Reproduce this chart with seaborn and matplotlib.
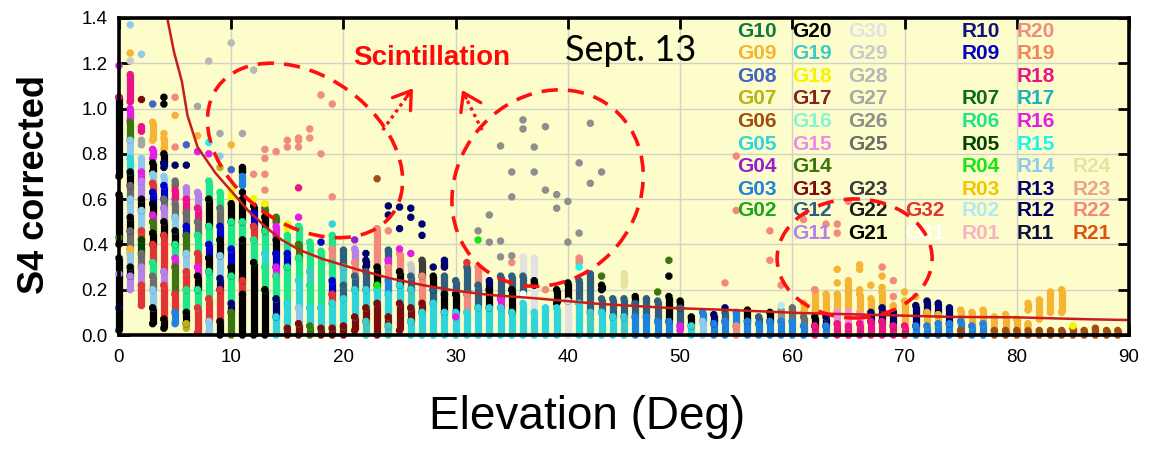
import numpy as np
import pandas as pd
import seaborn as sns
import matplotlib
matplotlib.use("Agg")
import matplotlib.pyplot as plt
from matplotlib.patches import Ellipse
from matplotlib.transforms import IdentityTransform, ScaledTranslation

# ---------------------------------------------------------------- colours
sat_colors = {
    "G10": "#127a3c", "G09": "#f6b436", "G08": "#4463c8", "G07": "#b4b418", "G06": "#a24e12",
    "G05": "#2ed6dc", "G04": "#9a1ed2", "G03": "#1e82e0", "G02": "#18a818",
    "G20": "#000000", "G19": "#3ecbc8", "G18": "#f4f400", "G17": "#842222", "G16": "#86f4d4",
    "G15": "#f08ce6", "G14": "#3c7410", "G13": "#7c0c0c", "G12": "#2e5f80", "G11": "#b482ea",
    "G30": "#e2e2e2", "G29": "#cacaca", "G28": "#b8b8b8", "G27": "#a6a6a6", "G26": "#8e8e8e",
    "G25": "#6c6c6c", "G23": "#3c3c3c", "G22": "#1c1c1c", "G21": "#000000",
    "G32": "#e23434", "G31": "#ffffff",
    "R10": "#12127e", "R09": "#0000cc", "R07": "#0c6a1c", "R06": "#1ee68a", "R05": "#004400",
    "R04": "#16e616", "R03": "#f4c400", "R02": "#b2e8f2", "R01": "#f8b2c4",
    "R20": "#f08c80", "R19": "#f4845e", "R18": "#ea1488", "R17": "#1cb2c2", "R16": "#e41ee4",
    "R15": "#1ef2f2", "R14": "#8ecaec", "R13": "#00006e", "R12": "#00005e", "R11": "#10103e",
    "R24": "#e8e2a2", "R23": "#eca28e", "R22": "#f2897c", "R21": "#e0500e",
}

# legend grid (column by column, top row first)
legend_columns = [
    ["G10", "G09", "G08", "G07", "G06", "G05", "G04", "G03", "G02", None],
    ["G20", "G19", "G18", "G17", "G16", "G15", "G14", "G13", "G12", "G11"],
    ["G30", "G29", "G28", "G27", "G26", "G25", None, "G23", "G22", "G21"],
    [None, None, None, None, None, None, None, None, "G32", "G31"],
    ["R10", "R09", None, "R07", "R06", "R05", "R04", "R03", "R02", "R01"],
    ["R20", "R19", "R18", "R17", "R16", "R15", "R14", "R13", "R12", "R11"],
    [None, None, None, None, None, None, "R24", "R23", "R22", "R21"],
]

# ---------------------------------------------------------------- data
# vertical runs of S4 samples: (elevation deg, satellite, S4 low, S4 high)
runs_low = [
    (0, "G21", 0.02, 0.34), (0, "G21", 0.40, 0.62), (0, "G21", 0.70, 1.05),
    (1, "G11", 0.20, 0.26), (1, "G21", 0.26, 0.30), (1, "R14", 0.30, 0.36), (1, "G09", 0.36, 0.38),
    (1, "G25", 0.38, 0.46), (1, "G21", 0.46, 0.52), (1, "R14", 0.52, 0.60), (1, "G25", 0.60, 0.66),
    (1, "G21", 0.66, 0.72), (1, "G05", 0.72, 0.78), (1, "R14", 0.78, 0.86), (1, "G14", 0.86, 0.94),
    (1, "R16", 0.95, 1.00), (1, "R18", 1.03, 1.15),
    (2, "G32", 0.13, 0.22), (2, "G11", 0.22, 0.30), (2, "G25", 0.30, 0.36), (2, "R05", 0.36, 0.42),
    (2, "G32", 0.42, 0.46), (2, "R14", 0.46, 0.55), (2, "G21", 0.55, 0.60), (2, "G11", 0.60, 0.68),
    (2, "R16", 0.68, 0.72), (2, "R14", 0.72, 0.78), (2, "G27", 0.84, 0.86), (2, "R18", 0.90, 0.92),
    (3, "G21", 0.05, 0.12), (3, "R14", 0.12, 0.20), (3, "G25", 0.20, 0.26), (3, "R06", 0.26, 0.32),
    (3, "G32", 0.32, 0.40), (3, "G21", 0.40, 0.45), (3, "G14", 0.45, 0.50), (3, "R16", 0.50, 0.53),
    (3, "G21", 0.53, 0.58), (3, "R09", 0.58, 0.63), (3, "G32", 0.63, 0.67), (3, "R14", 0.67, 0.71),
    (3, "G21", 0.72, 0.76), (3, "R16", 0.78, 0.82), (3, "G09", 0.86, 0.94),
    (4, "G21", 0.03, 0.07), (4, "G32", 0.07, 0.22), (4, "G11", 0.22, 0.28), (4, "G32", 0.28, 0.44),
    (4, "G21", 0.44, 0.50), (4, "G11", 0.50, 0.56), (4, "G25", 0.56, 0.60), (4, "R09", 0.60, 0.66),
    (4, "R14", 0.66, 0.70), (4, "R13", 0.74, 0.76), (4, "G21", 0.76, 0.80), (4, "G09", 0.82, 0.87),
    (5, "G03", 0.05, 0.10), (5, "G32", 0.10, 0.18), (5, "G14", 0.18, 0.30), (5, "R16", 0.30, 0.34),
    (5, "R06", 0.34, 0.40), (5, "G21", 0.40, 0.46), (5, "R14", 0.46, 0.52), (5, "G25", 0.52, 0.58),
    (5, "R18", 0.60, 0.64), (5, "G25", 0.66, 0.68),
    (6, "G07", 0.03, 0.05), (6, "G21", 0.05, 0.10), (6, "R06", 0.10, 0.20), (6, "G32", 0.20, 0.28),
    (6, "R14", 0.28, 0.36), (6, "G14", 0.36, 0.44), (6, "R09", 0.44, 0.48), (6, "G25", 0.48, 0.54),
    (6, "R18", 0.54, 0.60), (6, "G11", 0.60, 0.65),
    (7, "G32", 0.01, 0.12), (7, "R06", 0.12, 0.20), (7, "G21", 0.20, 0.26), (7, "R16", 0.26, 0.30),
    (7, "G32", 0.30, 0.36), (7, "R06", 0.36, 0.44), (7, "G25", 0.44, 0.50), (7, "R18", 0.50, 0.56),
    (7, "G11", 0.56, 0.63),
    (8, "R14", 0.01, 0.06), (8, "G32", 0.06, 0.16), (8, "R06", 0.16, 0.28), (8, "G21", 0.28, 0.34),
    (8, "R09", 0.34, 0.40), (8, "R06", 0.40, 0.48), (8, "G21", 0.48, 0.60), (8, "R06", 0.60, 0.68),
    (9, "G21", 0.00, 0.06), (9, "G32", 0.06, 0.20), (9, "R13", 0.20, 0.25), (9, "R14", 0.25, 0.35),
    (9, "G21", 0.35, 0.42), (9, "R09", 0.42, 0.48), (9, "G25", 0.48, 0.56), (9, "R06", 0.56, 0.63),
    (10, "G14", 0.00, 0.10), (10, "R13", 0.10, 0.14), (10, "R06", 0.14, 0.26), (10, "G21", 0.26, 0.30),
    (10, "R09", 0.30, 0.38), (10, "R06", 0.38, 0.50), (10, "G21", 0.50, 0.58), (10, "G18", 0.60, 0.64),
    (11, "G21", 0.00, 0.18), (11, "G32", 0.18, 0.24), (11, "G21", 0.24, 0.42), (11, "R06", 0.42, 0.50),
    (11, "G21", 0.50, 0.60), (11, "G03", 0.66, 0.70), (11, "G21", 0.72, 0.74),
    (12, "G21", 0.00, 0.32), (12, "R06", 0.32, 0.42), (12, "G32", 0.42, 0.48), (12, "R09", 0.48, 0.54),
    (12, "G21", 0.54, 0.57), (12, "G18", 0.60, 0.60),
    (13, "G21", 0.00, 0.20), (13, "R06", 0.20, 0.30), (13, "G05", 0.30, 0.36), (13, "R06", 0.36, 0.46),
    (13, "G21", 0.46, 0.52), (13, "G14", 0.52, 0.56), (13, "G18", 0.58, 0.58),
    (14, "G05", 0.00, 0.08), (14, "R13", 0.08, 0.16), (14, "R06", 0.16, 0.26), (14, "R16", 0.26, 0.30),
    (14, "R09", 0.30, 0.36), (14, "G21", 0.36, 0.42), (14, "R16", 0.44, 0.48), (14, "G14", 0.50, 0.52),
    (15, "G13", 0.00, 0.03), (15, "G05", 0.03, 0.14), (15, "R06", 0.14, 0.30), (15, "R09", 0.30, 0.36),
    (15, "R06", 0.36, 0.44), (15, "G18", 0.47, 0.49),
    (16, "G13", 0.00, 0.05), (16, "R14", 0.05, 0.12), (16, "G05", 0.12, 0.24), (16, "R06", 0.24, 0.34),
    (16, "G14", 0.34, 0.40), (16, "R06", 0.40, 0.48),
]

runs_mid = [
    (17, "G14", 0.00, 0.04), (17, "G05", 0.04, 0.12), (17, "R06", 0.12, 0.22), (17, "G19", 0.22, 0.28),
    (17, "R06", 0.28, 0.41),
    (18, "G13", 0.00, 0.03), (18, "G05", 0.03, 0.12), (18, "R06", 0.12, 0.37),
    (19, "G13", 0.00, 0.03), (19, "G05", 0.03, 0.14), (19, "G32", 0.14, 0.18), (19, "R09", 0.18, 0.24),
    (19, "R06", 0.24, 0.32), (19, "R22", 0.32, 0.38), (19, "R06", 0.38, 0.44),
    (20, "G13", 0.00, 0.04), (20, "G05", 0.04, 0.16), (20, "G12", 0.16, 0.22), (20, "G19", 0.22, 0.30),
    (20, "G12", 0.30, 0.375),
    (21, "G13", 0.02, 0.08), (21, "G05", 0.08, 0.20), (21, "G12", 0.20, 0.26), (21, "R22", 0.26, 0.32),
    (21, "G11", 0.32, 0.38),
    (22, "G19", 0.00, 0.06), (22, "G13", 0.06, 0.12), (22, "G05", 0.12, 0.20), (22, "G12", 0.20, 0.28),
    (22, "R13", 0.30, 0.33),
    (23, "G13", 0.00, 0.14), (23, "G05", 0.14, 0.20), (23, "R04", 0.20, 0.22), (23, "G21", 0.22, 0.30),
    (23, "R22", 0.30, 0.47),
    (24, "G19", 0.00, 0.04), (24, "G13", 0.04, 0.08), (24, "G05", 0.08, 0.18), (24, "G03", 0.18, 0.24),
    (24, "R22", 0.24, 0.30), (24, "R16", 0.30, 0.33), (24, "G12", 0.33, 0.375),
    (25, "G13", 0.02, 0.14), (25, "G05", 0.14, 0.22), (25, "G21", 0.22, 0.28), (25, "R22", 0.28, 0.36),
    (26, "G05", 0.00, 0.06), (26, "G13", 0.06, 0.12), (26, "G19", 0.12, 0.20), (26, "G12", 0.20, 0.26),
    (26, "G29", 0.26, 0.31),
    (27, "G05", 0.00, 0.10), (27, "G13", 0.10, 0.14), (27, "R22", 0.14, 0.26), (27, "G23", 0.26, 0.33),
    (28, "G05", 0.00, 0.14), (28, "G12", 0.14, 0.20), (28, "G21", 0.20, 0.26),
    (29, "G05", 0.00, 0.10), (29, "G21", 0.10, 0.18), (29, "G12", 0.18, 0.26), (29, "R13", 0.30, 0.33),
    (30, "G05", 0.00, 0.10), (30, "G21", 0.10, 0.18), (30, "G12", 0.18, 0.24),
    (31, "G05", 0.00, 0.10), (31, "R22", 0.10, 0.18), (31, "G12", 0.18, 0.30),
    (32, "G05", 0.00, 0.12), (32, "G12", 0.12, 0.22), (32, "R22", 0.22, 0.30),
    (33, "G05", 0.00, 0.12), (33, "G21", 0.12, 0.20), (33, "R13", 0.20, 0.24),
    (34, "G05", 0.00, 0.12), (34, "R16", 0.12, 0.16), (34, "G12", 0.16, 0.26),
    (35, "G05", 0.00, 0.10), (35, "G21", 0.10, 0.20), (35, "G12", 0.20, 0.26),
    (36, "G05", 0.00, 0.14), (36, "G31", 0.14, 0.18), (36, "G12", 0.18, 0.26), (36, "G30", 0.28, 0.345),
    (37, "G05", 0.00, 0.10), (37, "G30", 0.10, 0.34), (37, "G21", 0.22, 0.24),
    (38, "G05", 0.00, 0.12),
    (39, "G05", 0.00, 0.12), (39, "G21", 0.14, 0.20),
    (40, "G30", 0.00, 0.15), (40, "G21", 0.15, 0.23),
    (41, "G05", 0.00, 0.14), (41, "G12", 0.14, 0.24), (41, "R22", 0.32, 0.34),
    (42, "G19", 0.00, 0.10), (42, "G12", 0.10, 0.27),
    (43, "G05", 0.00, 0.10), (43, "G12", 0.10, 0.16), (43, "G21", 0.20, 0.22),
    (44, "G05", 0.00, 0.08), (44, "G12", 0.08, 0.16),
    (45, "G19", 0.00, 0.08), (45, "G12", 0.08, 0.16), (45, "R24", 0.22, 0.27),
    (46, "G03", 0.00, 0.08), (46, "G12", 0.08, 0.14), (46, "G21", 0.14, 0.17),
    (47, "G03", 0.00, 0.08), (47, "G12", 0.08, 0.16),
    (48, "G03", 0.00, 0.06), (48, "G12", 0.06, 0.15),
    (49, "G03", 0.00, 0.06), (49, "G21", 0.06, 0.17),
    (50, "R16", 0.02, 0.04), (50, "G12", 0.04, 0.12), (50, "G21", 0.12, 0.15),
]

runs_high = [
    (51, "G05", 0.00, 0.04), (51, "G21", 0.04, 0.08),
    (52, "R14", 0.00, 0.06), (52, "G03", 0.06, 0.10),
    (53, "G03", 0.00, 0.05), (53, "R13", 0.05, 0.09),
    (54, "G03", 0.00, 0.06), (54, "G12", 0.06, 0.10),
    (55, "R22", 0.00, 0.04), (55, "G03", 0.04, 0.10),
    (56, "G03", 0.00, 0.06), (56, "G21", 0.06, 0.11),
    (57, "G03", 0.00, 0.05), (57, "G12", 0.05, 0.08),
    (58, "G03", 0.00, 0.06), (58, "G21", 0.06, 0.10),
    (59, "G03", 0.00, 0.06), (59, "G26", 0.06, 0.11),
    (60, "G03", 0.00, 0.06), (60, "G25", 0.06, 0.12),
    (61, "G03", 0.00, 0.04), (61, "G25", 0.04, 0.08), (61, "G09", 0.10, 0.14),
    (62, "R18", 0.00, 0.04), (62, "G21", 0.04, 0.08), (62, "G09", 0.10, 0.20),
    (63, "G03", 0.00, 0.04), (63, "R13", 0.04, 0.08), (63, "G09", 0.08, 0.18),
    (64, "R18", 0.00, 0.05), (64, "G15", 0.05, 0.10), (64, "G09", 0.10, 0.18),
    (65, "R18", 0.00, 0.04), (65, "G15", 0.04, 0.10), (65, "G09", 0.12, 0.22),
    (66, "R18", 0.00, 0.05), (66, "G15", 0.05, 0.09), (66, "G09", 0.10, 0.18),
    (67, "R18", 0.00, 0.06), (67, "R13", 0.06, 0.10), (67, "G09", 0.10, 0.16),
    (68, "R18", 0.00, 0.06), (68, "R13", 0.06, 0.12), (68, "G09", 0.12, 0.19),
    (69, "R18", 0.00, 0.04), (69, "R13", 0.04, 0.10), (69, "G09", 0.10, 0.13),
    (70, "R18", 0.00, 0.04), (70, "G09", 0.04, 0.15),
    (71, "G03", 0.00, 0.04), (71, "R13", 0.04, 0.13),
    (72, "G03", 0.00, 0.04), (72, "G09", 0.04, 0.10), (72, "R13", 0.10, 0.15),
    (73, "G03", 0.00, 0.05), (73, "G09", 0.05, 0.09), (73, "R13", 0.09, 0.14),
    (74, "G03", 0.00, 0.05), (74, "R13", 0.05, 0.12),
    (75, "G06", 0.00, 0.02), (75, "G03", 0.02, 0.06), (75, "G09", 0.06, 0.11),
    (76, "G03", 0.00, 0.04), (76, "G09", 0.04, 0.10),
    (77, "G03", 0.00, 0.05), (77, "G09", 0.05, 0.11),
    (78, "G06", 0.00, 0.02), (78, "G09", 0.02, 0.08),
    (79, "G06", 0.00, 0.02), (79, "G09", 0.02, 0.09),
    (80, "G06", 0.00, 0.02), (80, "G09", 0.02, 0.07),
    (81, "G06", 0.00, 0.02), (81, "G09", 0.04, 0.05), (81, "G09", 0.11, 0.14),
    (82, "G06", 0.00, 0.02), (82, "G09", 0.07, 0.155),
    (83, "G06", 0.00, 0.02), (83, "G09", 0.10, 0.19),
    (84, "G06", 0.00, 0.02), (84, "G09", 0.10, 0.20),
    (85, "G06", 0.00, 0.03), (86, "G06", 0.00, 0.02), (87, "G06", 0.00, 0.03),
    (88, "G06", 0.00, 0.02), (89, "G06", 0.00, 0.02),
]

# single S4 samples: (elevation deg, satellite, S4)
spots = [
    (0, "R16", 1.19), (0, "R18", 1.05), (0, "G14", 0.43), (0, "G11", 0.27), (0, "R13", 0.12),
    (1, "R14", 1.37), (1, "G09", 1.245), (1, "G29", 1.21), (2, "R14", 1.24), (2, "G13", 1.04),
    (3, "G08", 1.02), (4, "G21", 1.05), (4, "G21", 1.02), (4, "G09", 0.89),
    (5, "R22", 1.05), (5, "G09", 0.97), (5, "R22", 0.83), (5, "R13", 0.75), (6, "G08", 0.84),
    (6, "R13", 0.75), (7, "R16", 0.81), (7, "G27", 1.01), (7, "G09", 0.88), (8, "G28", 1.21),
    (8, "R15", 0.85), (8, "R16", 0.80), (9, "G27", 0.89), (9, "R14", 0.79), (9, "G07", 0.74),
    (10, "G28", 1.29), (10, "G09", 0.84), (10, "G08", 0.73), (11, "G27", 0.89), (11, "G21", 0.63),
    (12, "G28", 1.17), (13, "R22", 0.78), (14, "R22", 0.81), (15, "R22", 0.86), (16, "R22", 0.86),
    (12, "R20", 0.71), (13, "R20", 0.64), (13, "R20", 0.71), (13, "R20", 0.82),
    (15, "R20", 0.83), (16, "R20", 0.83), (16, "R20", 0.87), (17, "R20", 0.87), (17, "R20", 0.91),
    (18, "R20", 0.80), (18, "R20", 1.06), (19, "R20", 1.02), (19, "R20", 0.61),
    (16, "R16", 0.52), (16, "R18", 0.65), (18, "R09", 0.41), (19, "G05", 0.49), (21, "G04", 0.42),
    (23, "G06", 0.69), (24, "R22", 0.46), (25, "R16", 0.38), (26, "R16", 0.36),
    (22, "R13", 0.36), (24, "R13", 0.57), (24, "R13", 0.53), (25, "R13", 0.565), (25, "R13", 0.47),
    (26, "R13", 0.56), (26, "R13", 0.52), (27, "R13", 0.49), (27, "R13", 0.44), (28, "R13", 0.30),
    (30, "R16", 0.08), (31, "G32", 0.32), (32, "R04", 0.42), (35, "R22", 0.32), (38, "R22", 0.20),
    (41, "R15", 0.30), (43, "G14", 0.26), (48, "G14", 0.19), (49, "G21", 0.26), (49, "G14", 0.33),
    (36, "G26", 0.95), (36, "G26", 0.91), (38, "G26", 0.92), (34, "G26", 0.835), (37, "G26", 0.83),
    (42, "G26", 0.935), (41, "G26", 0.76), (43, "G26", 0.72), (42, "G26", 0.67), (35, "G26", 0.72),
    (37, "G26", 0.72), (38, "G26", 0.64), (39, "G26", 0.62), (35, "G26", 0.61), (39, "G26", 0.56),
    (40, "G26", 0.59), (41, "G26", 0.45), (40, "G26", 0.41), (33, "G26", 0.53), (32, "G26", 0.46),
    (33, "G26", 0.41), (34, "G26", 0.415), (34, "G26", 0.345), (35, "G26", 0.35),
    (54, "R13", 0.12), (59, "R02", 0.13),
    (55, "R22", 0.79), (55, "R22", 0.55), (58, "R22", 0.46), (58, "R22", 0.33), (59, "R22", 0.22),
    (54, "R22", 0.23), (61, "R22", 0.51), (63, "R22", 0.49), (64, "R22", 0.49), (64, "R22", 0.45),
    (65, "R22", 0.59), (62, "R22", 0.20), (68, "R22", 0.30), (69, "R22", 0.24), (69, "R22", 0.17),
    (64, "G09", 0.29), (64, "G09", 0.23), (65, "G09", 0.24), (66, "G09", 0.31), (66, "G09", 0.20),
    (66, "G09", 0.29), (67, "G09", 0.22), (68, "G09", 0.21), (68, "G09", 0.26), (70, "G09", 0.19),
    (71, "G09", 0.17), (85, "G18", 0.04),
]

# scintillation threshold curve
curve_elev = [4.3, 4.9, 5.6, 6.1, 7.0, 8.6, 10.1, 11.5, 13.0, 14.5, 16.1, 18.2, 21.2, 24.2, 27.1,
              30.1, 33.0, 36.9, 42.9, 48.8, 54.7, 60.7, 68.1, 74.1, 80.0, 85.9, 90.0]
curve_s4 = [1.40, 1.25, 1.12, 0.97, 0.83, 0.715, 0.63, 0.55, 0.48, 0.42, 0.375, 0.335, 0.29, 0.25,
            0.22, 0.195, 0.177, 0.163, 0.137, 0.12, 0.11, 0.097, 0.088, 0.08, 0.078, 0.07, 0.066]

x_ticks = [0, 10, 20, 30, 40, 50, 60, 70, 80, 90]
y_ticks = [0.0, 0.2, 0.4, 0.6, 0.8, 1.0, 1.2, 1.4]

# ---------------------------------------------------------------- frames
runs = pd.DataFrame(runs_low + runs_mid + runs_high, columns=["elev", "sat", "lo", "hi"])
ends = pd.concat([
    runs[["elev", "sat", "lo"]].rename(columns={"lo": "s4"}),
    runs[["elev", "sat", "hi"]].rename(columns={"hi": "s4"}),
    pd.DataFrame(spots, columns=["elev", "sat", "s4"]),
], ignore_index=True)

# ---------------------------------------------------------------- figure
sns.set_theme(style="ticks")
plt.rcParams["font.family"] = ["Liberation Sans", "DejaVu Sans"]

fig = plt.figure(figsize=(11.53, 4.49), dpi=100)
ax = fig.add_axes([119 / 1153, 114 / 449, 1010 / 1153, 317 / 449])
ax.set_facecolor("#fdfccb")
ax.set_xlim(0, 90)
ax.set_ylim(0, 1.4)
ax.set_xticks(x_ticks)
ax.set_yticks(y_ticks)
ax.set_yticklabels([f"{v:.1f}" for v in y_ticks])
ax.grid(True, color="#d2d2c8", lw=1.0, zorder=0)
ax.set_axisbelow(True)

# stacked S4 samples per elevation bin
ax.vlines(runs["elev"], runs["lo"], runs["hi"],
          colors=[sat_colors[s] for s in runs["sat"]], linewidth=5.2,
          zorder=2, clip_on=False)
sns.scatterplot(data=ends, x="elev", y="s4", hue="sat", palette=sat_colors,
                marker="8", s=32, linewidth=0, legend=False, ax=ax,
                zorder=3, clip_on=False)

# threshold curve
sns.lineplot(x=curve_elev, y=curve_s4, color="#c81e1a", lw=1.8, sort=False,
             estimator=None, ax=ax, zorder=4)

# satellite colour key written inside the plot
col_x = [55.05, 60.0, 65.0, 70.05, 75.1, 80.0, 85.0]
row_y = [1.339, 1.245, 1.143, 1.046, 0.942, 0.843, 0.746, 0.644, 0.549, 0.448]
for cx, names in zip(col_x, legend_columns):
    for ry, name in zip(row_y, names):
        if name is None:
            continue
        ax.text(cx, ry, name, color=sat_colors[name], fontsize=15, fontweight="bold",
                ha="left", va="center", zorder=5)


def ring(elev, s4, w_px, h_px, angle):
    tr = IdentityTransform() + ScaledTranslation(elev, s4, ax.transData)
    ax.add_patch(Ellipse((0, 0), w_px, h_px, angle=angle, transform=tr, fill=False,
                         ec="#ff1010", lw=2.6, ls=(0, (4.5, 2.8)), zorder=6, clip_on=False))


ring(16.58, 0.815, 216, 148, -36)
ring(38.19, 0.649, 206, 181, 51)
ring(65.55, 0.338, 155, 119, 0)

ax.text(27.9, 1.223, "Scintillation", color="#ff0a0a", fontsize=20, fontweight="bold",
        ha="center", va="center", zorder=6)
ax.text(45.6, 1.258, "Sept. 13", color="black", fontsize=26, family=["Lato", "DejaVu Sans"],
        ha="center", va="center", zorder=6)

# dotted pointers from the rings to the label
for (x0, y0), (x1, y1) in [((23.5, 0.905), (26.2, 1.09)), ((32.35, 0.905), (30.57, 1.082))]:
    xm, ym = x0 + 0.8 * (x1 - x0), y0 + 0.8 * (y1 - y0)
    ax.plot([x0, xm], [y0, ym], color="#ff1010", lw=2.4, ls=(0, (1, 1.2)), zorder=6)
    ax.annotate("", xy=(x1, y1), xytext=(xm, ym),
                arrowprops=dict(arrowstyle="->,head_length=0.6,head_width=0.4",
                                color="#ff1010", lw=2.4, mutation_scale=20,
                                shrinkA=0, shrinkB=0), zorder=6)

# frame and ticks
for sp in ax.spines.values():
    sp.set_linewidth(2.6)
    sp.set_color("black")
    sp.set_zorder(7)
ax.tick_params(axis="both", direction="in", length=8, width=2, top=True, right=True,
               labelsize=13.5, colors="black", labelcolor="black")
ax.tick_params(axis="x", pad=10)
ax.tick_params(axis="y", pad=8)

ax.set_xlabel("Elevation (Deg)", fontsize=33, color="black")
ax.xaxis.set_label_coords(0.463, -0.19)
ax.set_ylabel("S4 corrected", fontsize=26, fontweight="bold", color="black")
ax.yaxis.set_label_coords(-0.066, 0.476)

fig.savefig("out.png", dpi=100, facecolor="white")
